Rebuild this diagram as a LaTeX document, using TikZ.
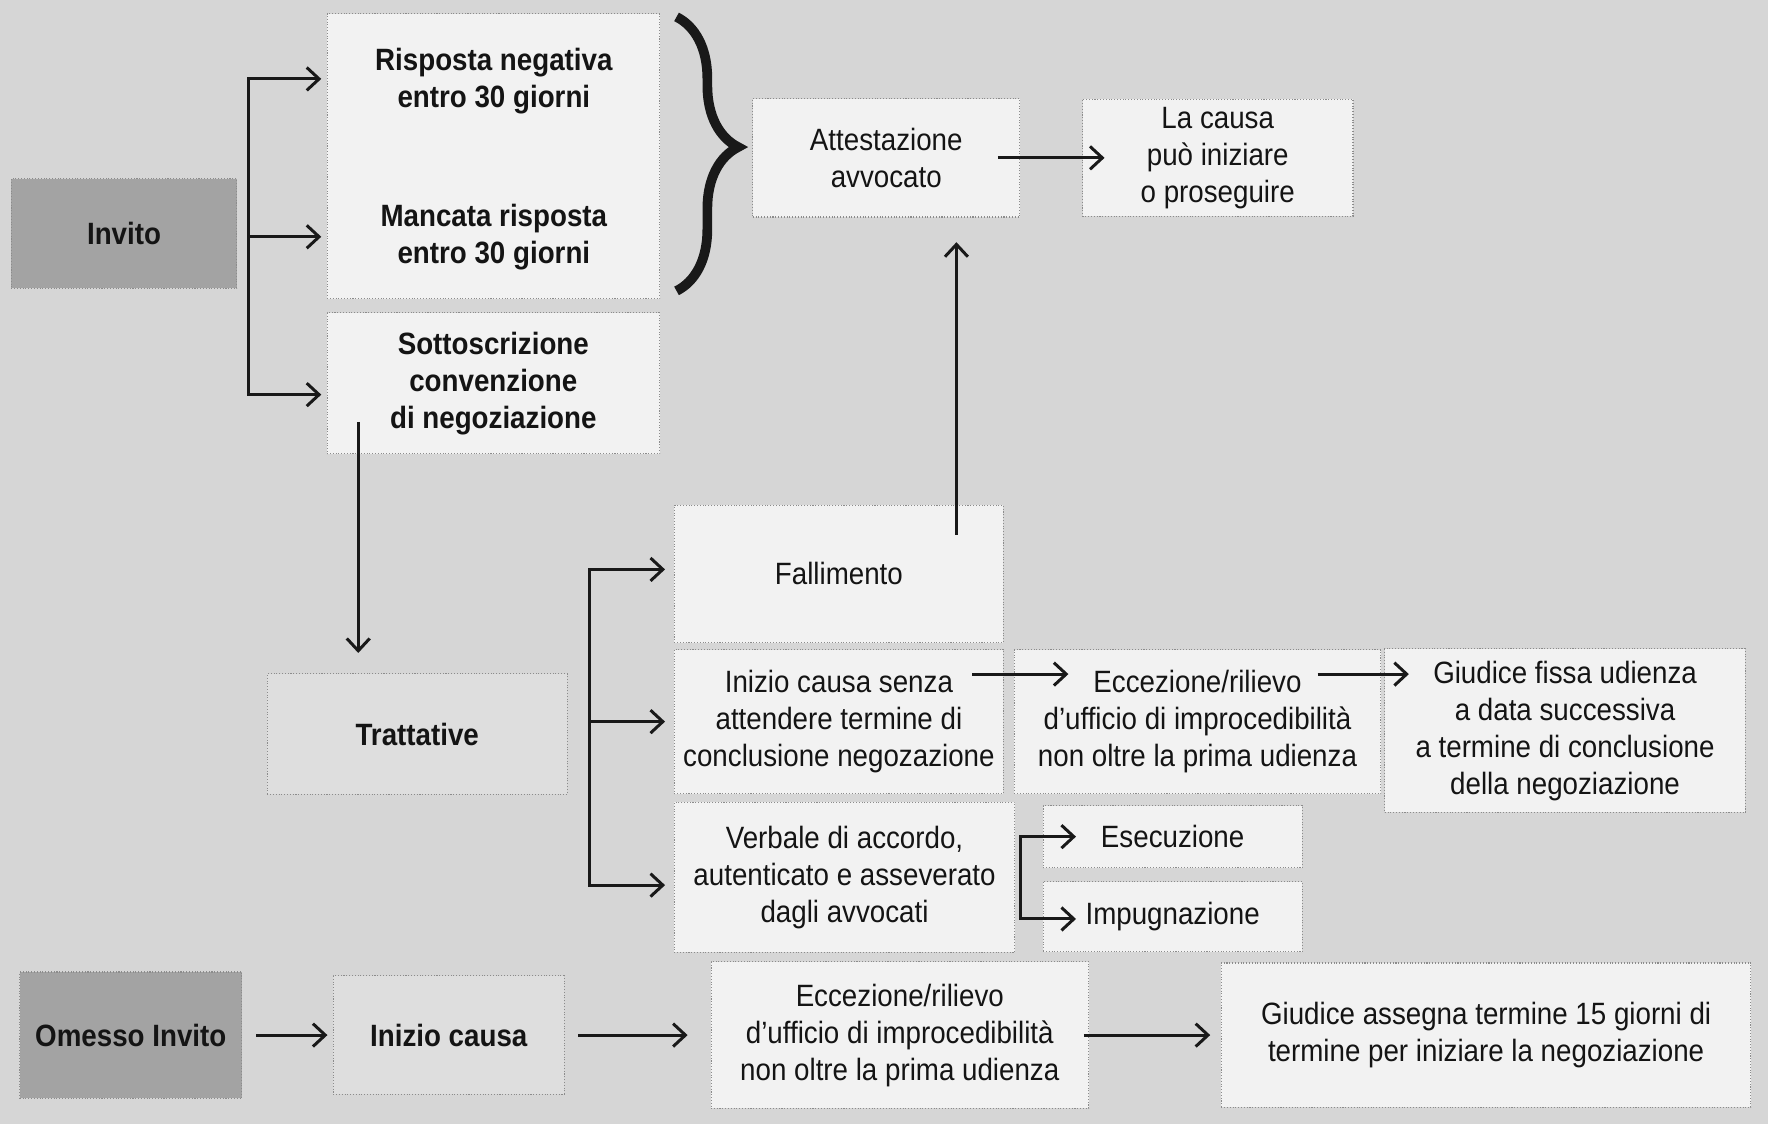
\documentclass[tikz,border=0pt]{standalone}
\usepackage{fontspec}
\setmainfont{Liberation Sans}[FakeStretch=0.9]
\usetikzlibrary{arrows.meta,decorations.pathreplacing}
\definecolor{bgc}{gray}{0.84}
\definecolor{lt}{gray}{0.95}
\definecolor{md}{gray}{0.87}
\definecolor{dk}{gray}{0.64}
\begin{document}
\begin{tikzpicture}[x=0.0225cm, y=-0.0225cm,
  font=\fontsize{17.5}{21}\selectfont,
  sz/.style 2 args={minimum width=#1*0.64pt, minimum height=#2*0.64pt},
  bx/.style={draw=black!45, densely dotted, line width=0.6pt, fill=lt, align=center, inner sep=0pt, text=black!92},
  txt/.style={align=center, inner sep=0pt, text=black!92},
  bft/.style={font=\fontsize{17.5}{21}\selectfont\bfseries},
  ln/.style={line width=1.7pt, draw=black!90},
  arr/.style={ln, -{Straight Barb[length=7pt,width=13pt]}},
  bracebig/.style={line width=5.5pt, draw=black!90, decorate, decoration={brace, amplitude=35pt, aspect=0.475}}
]
\fill[bgc] (0,0) rectangle (1568,997);
\useasboundingbox (0,0) rectangle (1568,997);

% left column
\node[bx, fill=dk, sz={200}{97}, bft] (invito) at (110,207) {Invito};
\node[bx, sz={295}{253}] (grp1) at (437.5,138.5) {};
\node[txt, bft] (rn) at (438,72) {Risposta negativa\\entro 30 giorni};
\node[txt, bft] (mr) at (438,210) {Mancata risposta\\entro 30 giorni};
\node[bx, sz={295}{125}, bft] (sott) at (437.5,340) {Sottoscrizione\\convenzione\\di negoziazione};

% top right
\node[bx, sz={237}{105}] (att) at (786,140) {Attestazione\\avvocato};
\node[bx, sz={240}{104}] (cau) at (1080,140) {La causa\\può iniziare\\o proseguire};

% middle
\node[bx, fill=md, sz={266}{107}, bft] (tra) at (370,651) {Trattative};
\node[bx, sz={292}{122}] (fal) at (744,509) {Fallimento};
\node[bx, sz={292}{128}] (ics) at (744,640) {Inizio causa senza\\attendere termine di\\conclusione negozazione};
\node[bx, sz={325}{128}] (ecc1) at (1062,640) {Eccezione/rilievo\\d'ufficio di improcedibilità\\non oltre la prima udienza};
\node[bx, sz={320}{145}] (gfu) at (1388,648) {Giudice fissa udienza\\a data successiva\\a termine di conclusione\\della negoziazione};
\node[bx, sz={302}{133}] (ver) at (749,778) {Verbale di accordo,\\autenticato e asseverato\\dagli avvocati};
\node[bx, sz={230}{55}] (ese) at (1040,742) {Esecuzione};
\node[bx, sz={230}{62}] (imp) at (1040,813) {Impugnazione};

% bottom row
\node[bx, fill=dk, sz={197}{112}, bft] (omi) at (116,918) {Omesso Invito};
\node[bx, fill=md, sz={205}{105}, bft] (icb) at (398,918) {Inizio causa};
\node[bx, sz={335}{130}] (ecc2) at (798,918) {Eccezione/rilievo\\d'ufficio di improcedibilità\\non oltre la prima udienza};
\node[bx, sz={470}{128}] (gas) at (1318,918) {Giudice assegna termine 15 giorni di\\termine per iniziare la negoziazione};

% Invito bracket
\coordinate (ia) at (220,70);
\coordinate (ib) at (220,350);
\draw[arr, shorten >=3pt] (ib) -- (ia) -- (ia -| grp1.west);
\draw[arr, shorten >=3pt] (ia) -- (ib) -- (ib -| sott.west);
\draw[arr, shorten >=3pt] (ia |- mr) -- (grp1.west |- mr);

% brace
\coordinate (brt) at (600,15);
\coordinate (brb) at (600,258);
\draw[bracebig] (brt) -- (brb);

\draw[arr, shorten <=-12.8pt, shorten >=-12.8pt] (att) -- (cau);

% Sottoscrizione -> Trattative
\coordinate (s0) at ([xshift=18pt,yshift=18.5pt]sott.south west);
\draw[arr, shorten >=11.5pt] (s0) -- (s0 |- tra.north);

% Fallimento -> Attestazione
\coordinate (f0) at ([xshift=-27pt,yshift=-17pt]fal.north east);
\draw[arr, shorten >=14pt] (f0) -- (f0 |- att.south);

% Trattative bracket
\coordinate (ta) at (523,505);
\coordinate (tb) at (523,785);
\draw[arr, shorten >=5pt] (tb) -- (ta) -- (ta -| fal.west);
\draw[arr, shorten >=5pt] (ta) -- (tb) -- (tb -| ver.west);
\draw[arr, shorten >=5pt] (ta |- ics) -- (ics.west);

% Inizio causa senza -> Eccezione -> Giudice
\coordinate (c0) at ([xshift=-18pt,yshift=27pt]ics.east);
\draw[arr, shorten >=-31pt] (c0) -- (c0 -| ecc1.west);
\coordinate (e0) at ([xshift=-36pt,yshift=27pt]ecc1.east);
\draw[arr, shorten >=-14pt] (e0) -- (e0 -| gfu.west);

% Verbale bracket
\coordinate (va) at (905,742);
\coordinate (vb) at (905,815);
\draw[arr, shorten >=-19pt] (vb) -- (va) -- (va -| ese.west);
\draw[arr, shorten >=-19pt] (va) -- (vb) -- (vb -| imp.west);

% bottom row arrows
\draw[arr, shorten <=8pt, shorten >=3pt] (omi) -- (icb);
\draw[arr, shorten <=7.5pt, shorten >=13pt] (icb) -- (ecc2);
\draw[arr, shorten <=-3pt, shorten >=6pt] (ecc2) -- (gas);
\end{tikzpicture}
\end{document}
